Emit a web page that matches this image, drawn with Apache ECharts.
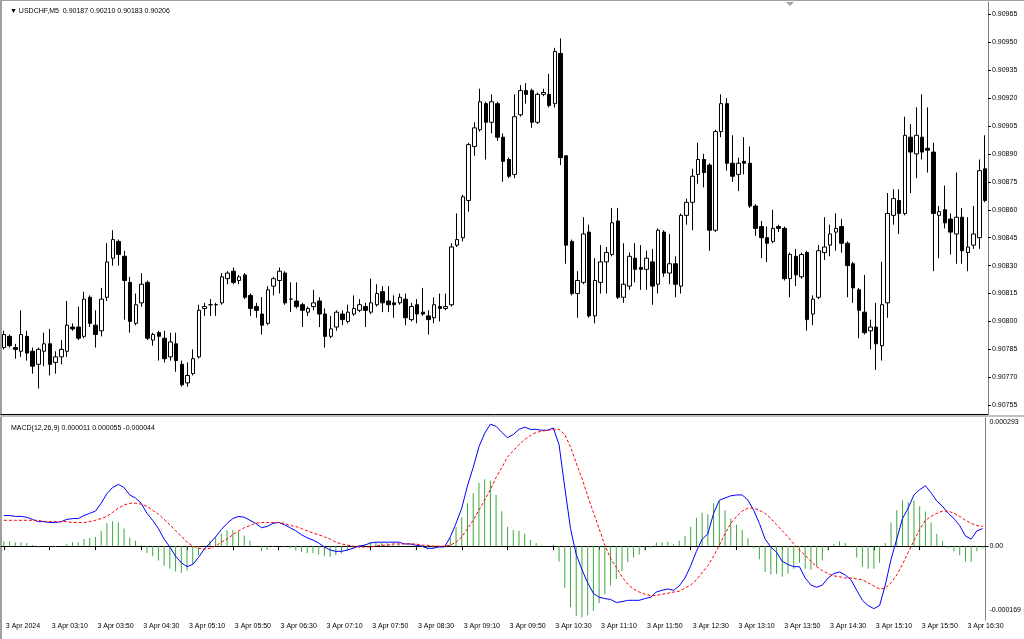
<!DOCTYPE html>
<html><head><meta charset="utf-8">
<script src="https://cdn.jsdelivr.net/npm/echarts@6/dist/echarts.min.js"></script>
<style>html,body{margin:0;padding:0;background:#fff}#c{width:1024px;height:639px}</style>
</head><body><div id="c"></div>
<script>
const opens = [0.90786,0.90792,0.90786,0.90784,0.90792,0.90784,0.90777,0.90784,0.90788,0.90778,
0.90781,0.90784,0.90797,0.90797,0.90792,0.90813,0.90798,0.90795,0.90813,0.90834,
0.90843,0.90835,0.90821,0.90799,0.90810,0.90821,0.90790,0.90794,0.90791,0.90781,
0.90788,0.90777,0.90767,0.90772,0.90781,0.90807,0.90809,0.90809,0.90810,0.90823,
0.90827,0.90822,0.90825,0.90814,0.90808,0.90804,0.90799,0.90819,0.90822,0.90826,
0.90812,0.90811,0.90809,0.90805,0.90808,0.90811,0.90804,0.90792,0.90797,0.90804,
0.90800,0.90804,0.90806,0.90808,0.90805,0.90809,0.90816,0.90811,0.90810,0.90810,
0.90812,0.90801,0.90809,0.90805,0.90803,0.90802,0.90808,0.90807,0.90809,0.90841,
0.90845,0.90865,0.90894,0.90903,0.90917,0.90907,0.90917,0.90899,0.90887,0.90879,
0.90911,0.90924,0.90924,0.90907,0.90922,0.90922,0.90917,0.90944,0.90889,0.90843,
0.90815,0.90821,0.90848,0.90803,0.90821,0.90832,0.90836,0.90854,0.90813,0.90819,
0.90834,0.90829,0.90828,0.90832,0.90820,0.90848,0.90826,0.90831,0.90819,0.90857,
0.90864,0.90879,0.90887,0.90884,0.90849,0.90902,0.90917,0.90885,0.90879,0.90886,
0.90885,0.90862,0.90851,0.90845,0.90843,0.90851,0.90850,0.90823,0.90835,0.90824,
0.90837,0.90804,0.90813,0.90837,0.90841,0.90848,0.90851,0.90842,0.90831,0.90817,
0.90805,0.90795,0.90797,0.90787,0.90810,0.90857,0.90865,0.90858,0.90899,0.90890,
0.90899,0.90893,0.90891,0.90857,0.90860,0.90855,0.90847,0.90856,0.90837,0.90841,
0.90845,0.90882];
const closes = [0.90793,0.90787,0.90785,0.90793,0.90783,0.90776,0.90785,0.90788,0.90777,0.90781,
0.90785,0.90798,0.90796,0.90791,0.90812,0.90799,0.90793,0.90812,0.90832,0.90844,
0.90836,0.90822,0.90800,0.90809,0.90820,0.90791,0.90793,0.90792,0.90780,0.90789,
0.90779,0.90766,0.90771,0.90780,0.90806,0.90808,0.90809,0.90809,0.90824,0.90826,
0.90821,0.90824,0.90813,0.90807,0.90806,0.90798,0.90817,0.90823,0.90827,0.90810,
0.90812,0.90808,0.90806,0.90807,0.90810,0.90804,0.90792,0.90796,0.90805,0.90801,
0.90805,0.90807,0.90809,0.90806,0.90810,0.90815,0.90810,0.90809,0.90809,0.90813,
0.90802,0.90808,0.90804,0.90804,0.90801,0.90809,0.90807,0.90808,0.90840,0.90844,
0.90867,0.90895,0.90904,0.90918,0.90907,0.90918,0.90899,0.90886,0.90878,0.90910,
0.90924,0.90922,0.90907,0.90922,0.90923,0.90916,0.90945,0.90888,0.90841,0.90815,
0.90822,0.90847,0.90803,0.90822,0.90832,0.90837,0.90853,0.90813,0.90820,0.90835,
0.90828,0.90828,0.90834,0.90819,0.90849,0.90826,0.90831,0.90820,0.90857,0.90864,
0.90878,0.90887,0.90880,0.90849,0.90902,0.90917,0.90885,0.90878,0.90885,0.90885,
0.90862,0.90850,0.90845,0.90842,0.90850,0.90850,0.90823,0.90836,0.90825,0.90836,
0.90801,0.90812,0.90838,0.90840,0.90847,0.90850,0.90842,0.90830,0.90818,0.90806,
0.90794,0.90797,0.90788,0.90809,0.90858,0.90866,0.90858,0.90900,0.90891,0.90900,
0.90891,0.90892,0.90858,0.90859,0.90853,0.90848,0.90856,0.90838,0.90840,0.90847,
0.90881,0.90865];
const highs = [0.90795,0.90793,0.90788,0.90806,0.90795,0.90786,0.90786,0.90794,0.90796,0.90784,
0.90790,0.90811,0.90799,0.90808,0.90816,0.90814,0.90806,0.90818,0.90842,0.90849,
0.90844,0.90838,0.90824,0.90815,0.90826,0.90822,0.90794,0.90795,0.90795,0.90794,
0.90794,0.90779,0.90778,0.90785,0.90809,0.90810,0.90812,0.90810,0.90826,0.90827,
0.90829,0.90825,0.90826,0.90815,0.90810,0.90813,0.90819,0.90824,0.90829,0.90827,
0.90821,0.90821,0.90810,0.90808,0.90817,0.90813,0.90807,0.90803,0.90806,0.90806,
0.90809,0.90814,0.90812,0.90810,0.90823,0.90820,0.90819,0.90819,0.90814,0.90815,
0.90815,0.90810,0.90812,0.90818,0.90806,0.90813,0.90815,0.90815,0.90842,0.90858,
0.90868,0.90896,0.90907,0.90925,0.90918,0.90922,0.90918,0.90901,0.90888,0.90922,
0.90927,0.90928,0.90925,0.90923,0.90925,0.90933,0.90947,0.90952,0.90889,0.90844,
0.90827,0.90856,0.90852,0.90834,0.90841,0.90840,0.90861,0.90861,0.90842,0.90837,
0.90842,0.90841,0.90838,0.90839,0.90850,0.90849,0.90847,0.90835,0.90858,0.90866,
0.90882,0.90896,0.90890,0.90885,0.90903,0.90922,0.90920,0.90900,0.90888,0.90899,
0.90894,0.90863,0.90854,0.90851,0.90860,0.90852,0.90851,0.90837,0.90839,0.90837,
0.90838,0.90814,0.90841,0.90856,0.90852,0.90858,0.90855,0.90843,0.90832,0.90818,
0.90825,0.90801,0.90810,0.90832,0.90869,0.90871,0.90871,0.90910,0.90906,0.90915,
0.90922,0.90915,0.90896,0.90862,0.90873,0.90858,0.90880,0.90861,0.90856,0.90862,
0.90887,0.90900];
const lows = [0.90785,0.90786,0.90780,0.90781,0.90779,0.90772,0.90764,0.90776,0.90771,0.90772,
0.90777,0.90781,0.90795,0.90790,0.90791,0.90797,0.90786,0.90792,0.90811,0.90830,
0.90830,0.90801,0.90794,0.90798,0.90808,0.90790,0.90787,0.90779,0.90778,0.90779,
0.90773,0.90765,0.90765,0.90771,0.90780,0.90803,0.90803,0.90803,0.90809,0.90820,
0.90820,0.90820,0.90812,0.90803,0.90802,0.90793,0.90798,0.90814,0.90815,0.90809,
0.90805,0.90807,0.90797,0.90803,0.90806,0.90797,0.90786,0.90791,0.90795,0.90798,
0.90799,0.90803,0.90805,0.90797,0.90804,0.90808,0.90805,0.90805,0.90802,0.90809,
0.90798,0.90800,0.90799,0.90803,0.90793,0.90799,0.90800,0.90806,0.90808,0.90840,
0.90843,0.90859,0.90889,0.90902,0.90887,0.90901,0.90897,0.90875,0.90877,0.90877,
0.90910,0.90917,0.90904,0.90906,0.90921,0.90915,0.90915,0.90884,0.90831,0.90814,
0.90802,0.90820,0.90802,0.90799,0.90815,0.90815,0.90835,0.90812,0.90810,0.90817,
0.90821,0.90817,0.90817,0.90809,0.90815,0.90824,0.90820,0.90813,0.90815,0.90852,
0.90849,0.90874,0.90872,0.90838,0.90848,0.90899,0.90881,0.90875,0.90870,0.90879,
0.90861,0.90846,0.90834,0.90832,0.90842,0.90848,0.90822,0.90813,0.90819,0.90823,
0.90795,0.90798,0.90812,0.90833,0.90835,0.90838,0.90837,0.90813,0.90810,0.90791,
0.90793,0.90785,0.90774,0.90779,0.90802,0.90852,0.90847,0.90857,0.90869,0.90877,
0.90887,0.90880,0.90827,0.90834,0.90850,0.90836,0.90831,0.90831,0.90827,0.90839,
0.90839,0.90864];
const macdMain = [70e-6,70e-6,68e-6,68e-6,66e-6,61e-6,56e-6,56e-6,54e-6,54e-6,
56e-6,61e-6,63e-6,63e-6,70e-6,75e-6,80e-6,98e-6,120e-6,134e-6,
141e-6,134e-6,117e-6,110e-6,98e-6,75e-6,59e-6,40e-6,16e-6,-2e-6,
-23e-6,-38e-6,-47e-6,-42e-6,-26e-6,-7e-6,7e-6,21e-6,38e-6,52e-6,
63e-6,68e-6,66e-6,59e-6,52e-6,42e-6,45e-6,52e-6,54e-6,49e-6,
42e-6,35e-6,26e-6,19e-6,14e-6,7e-6,-2e-6,-9e-6,-12e-6,-12e-6,
-9e-6,-5e-6,0,2e-6,7e-6,9e-6,9e-6,9e-6,9e-6,9e-6,
5e-6,5e-6,2e-6,0,-5e-6,-5e-6,-2e-6,-2e-6,21e-6,52e-6,
87e-6,138e-6,180e-6,227e-6,258e-6,279e-6,274e-6,260e-6,248e-6,255e-6,
267e-6,272e-6,267e-6,267e-6,265e-6,265e-6,270e-6,232e-6,134e-6,40e-6,
-19e-6,-54e-6,-84e-6,-108e-6,-117e-6,-120e-6,-122e-6,-129e-6,-127e-6,-124e-6,
-124e-6,-124e-6,-120e-6,-117e-6,-105e-6,-101e-6,-98e-6,-101e-6,-91e-6,-73e-6,
-45e-6,-12e-6,16e-6,28e-6,75e-6,105e-6,110e-6,115e-6,117e-6,117e-6,
105e-6,82e-6,52e-6,16e-6,-2e-6,-14e-6,-35e-6,-42e-6,-47e-6,-47e-6,
-73e-6,-89e-6,-94e-6,-89e-6,-73e-6,-63e-6,-59e-6,-66e-6,-77e-6,-101e-6,
-124e-6,-136e-6,-143e-6,-136e-6,-89e-6,-30e-6,16e-6,63e-6,87e-6,117e-6,
129e-6,138e-6,122e-6,103e-6,91e-6,75e-6,63e-6,47e-6,23e-6,16e-6,
35e-6,40e-6];
const macdSignal = [59e-6,59e-6,59e-6,59e-6,59e-6,59e-6,59e-6,56e-6,56e-6,56e-6,
56e-6,56e-6,54e-6,54e-6,54e-6,56e-6,59e-6,63e-6,68e-6,77e-6,
87e-6,94e-6,98e-6,98e-6,96e-6,91e-6,82e-6,73e-6,61e-6,49e-6,
35e-6,23e-6,9e-6,0,-5e-6,-7e-6,-5e-6,0,9e-6,16e-6,
26e-6,35e-6,42e-6,47e-6,52e-6,54e-6,54e-6,54e-6,54e-6,52e-6,
47e-6,45e-6,40e-6,35e-6,30e-6,26e-6,21e-6,16e-6,9e-6,5e-6,
2e-6,0,-2e-6,-2e-6,-2e-6,0,2e-6,2e-6,5e-6,5e-6,
5e-6,5e-6,5e-6,2e-6,2e-6,0,0,0,2e-6,9e-6,
21e-6,40e-6,59e-6,82e-6,105e-6,129e-6,157e-6,180e-6,204e-6,218e-6,
232e-6,244e-6,253e-6,260e-6,263e-6,265e-6,267e-6,267e-6,255e-6,227e-6,
190e-6,155e-6,115e-6,77e-6,40e-6,2e-6,-28e-6,-49e-6,-70e-6,-87e-6,
-98e-6,-105e-6,-110e-6,-113e-6,-113e-6,-110e-6,-108e-6,-105e-6,-103e-6,-96e-6,
-89e-6,-77e-6,-61e-6,-45e-6,-23e-6,2e-6,28e-6,52e-6,68e-6,80e-6,
87e-6,87e-6,82e-6,75e-6,63e-6,49e-6,35e-6,21e-6,5e-6,-9e-6,
-21e-6,-35e-6,-47e-6,-56e-6,-63e-6,-68e-6,-70e-6,-73e-6,-73e-6,-75e-6,
-77e-6,-84e-6,-91e-6,-98e-6,-96e-6,-84e-6,-66e-6,-42e-6,-14e-6,12e-6,
38e-6,59e-6,68e-6,75e-6,80e-6,80e-6,75e-6,68e-6,59e-6,52e-6,
47e-6,45e-6];
const macdHist = [11e-6,11e-6,9e-6,9e-6,7e-6,2e-6,-3e-6,0,-2e-6,-2e-6,
0,5e-6,9e-6,9e-6,16e-6,19e-6,21e-6,35e-6,52e-6,57e-6,
54e-6,40e-6,19e-6,12e-6,2e-6,-16e-6,-23e-6,-33e-6,-45e-6,-51e-6,
-58e-6,-61e-6,-56e-6,-42e-6,-21e-6,0,12e-6,21e-6,29e-6,36e-6,
37e-6,33e-6,24e-6,12e-6,0,-12e-6,-9e-6,-2e-6,0,-3e-6,
-5e-6,-10e-6,-14e-6,-16e-6,-16e-6,-19e-6,-23e-6,-25e-6,-21e-6,-17e-6,
-11e-6,-5e-6,2e-6,4e-6,9e-6,9e-6,7e-6,7e-6,4e-6,4e-6,
0,0,-3e-6,-2e-6,-7e-6,-5e-6,-2e-6,-2e-6,19e-6,43e-6,
66e-6,98e-6,121e-6,145e-6,153e-6,150e-6,117e-6,80e-6,44e-6,37e-6,
35e-6,28e-6,14e-6,7e-6,2e-6,0,3e-6,-35e-6,-95e-6,-140e-6,
-160e-6,-163e-6,-158e-6,-148e-6,-130e-6,-110e-6,-90e-6,-75e-6,-57e-6,-37e-6,
-26e-6,-19e-6,-10e-6,-4e-6,8e-6,9e-6,10e-6,4e-6,12e-6,23e-6,
44e-6,65e-6,77e-6,73e-6,98e-6,103e-6,82e-6,63e-6,49e-6,37e-6,
18e-6,-5e-6,-30e-6,-59e-6,-65e-6,-63e-6,-70e-6,-63e-6,-52e-6,-38e-6,
-52e-6,-54e-6,-47e-6,-33e-6,-10e-6,5e-6,11e-6,7e-6,-4e-6,-26e-6,
-47e-6,-52e-6,-52e-6,-38e-6,7e-6,54e-6,82e-6,105e-6,101e-6,105e-6,
91e-6,79e-6,54e-6,28e-6,11e-6,-5e-6,-12e-6,-21e-6,-36e-6,-36e-6,
-12e-6,-5e-6];
const priceTicks = [0.90755,0.90770,0.90785,0.90800,0.90815,0.90830,0.90845,0.90860,0.90875,0.90890,0.90905,0.90920,0.90935,0.90950,0.90965];
const macdTicks = [-0.000169, 0, 0.000293];
const timeTickLabels = ["3 Apr 2024","3 Apr 03:10","3 Apr 03:50","3 Apr 04:30","3 Apr 05:10","3 Apr 05:50","3 Apr 06:30","3 Apr 07:10","3 Apr 07:50","3 Apr 08:30","3 Apr 09:10","3 Apr 09:50","3 Apr 10:30","3 Apr 11:10","3 Apr 11:50","3 Apr 12:30","3 Apr 13:10","3 Apr 13:50","3 Apr 14:30","3 Apr 15:10","3 Apr 15:50","3 Apr 16:30"];
const titleMain = "\u25BC USDCHF,M5  0.90187 0.90210 0.90183 0.90206";
const titleMacd = "MACD(12,26,9) 0.000011 0.000055 -0.000044";

const categories = [];
for (let i = 0; i < opens.length; i++) {
  const m = 150 + 5 * i;
  categories.push('3 Apr ' + String(Math.floor(m / 60)).padStart(2, '0') + ':' + String(m % 60).padStart(2, '0'));
}
const candleData = opens.map((o, i) => [o, closes[i], lows[i], highs[i]]);

const FONT = 'Liberation Sans';
const chart = echarts.init(document.getElementById('c'), null, {renderer: 'canvas'});
chart.setOption({
  animation: false,
  backgroundColor: '#ffffff',
  textStyle: {fontFamily: FONT},
  title: [
    {text: titleMain, left: 5, top: 3, textStyle: {fontSize: 7, fontWeight: 'normal', color: '#000', fontFamily: FONT}},
    {text: titleMacd, left: 6, top: 420, textStyle: {fontSize: 7, fontWeight: 'normal', color: '#000', fontFamily: FONT}}
  ],
  grid: [
    {left: 1, right: 36, top: 2, height: 412},
    {left: 1, right: 36, top: 418, height: 202}
  ],
  xAxis: [
    {type: 'category', gridIndex: 0, data: categories, boundaryGap: true,
     axisLine: {show: true, lineStyle: {color: '#000', width: 1}}, axisTick: {show: false}, axisLabel: {show: false}, splitLine: {show: false}},
    {type: 'category', gridIndex: 1, data: categories, boundaryGap: true,
     axisLine: {show: true, lineStyle: {color: '#000', width: 1}},
     axisTick: {show: true, alignWithLabel: true, interval: (i) => i % 8 === 0, length: 4, lineStyle: {color: '#000'}},
     axisLabel: {show: true, interval: (i) => i % 8 === 0, align: 'left', margin: 3, padding: [0, 0, 0, 2],
       fontSize: 7, color: '#000', fontFamily: FONT,
       formatter: (v, idx) => timeTickLabels[idx / 8]},
     splitLine: {show: false}}
  ],
  yAxis: [
    {type: 'value', gridIndex: 0, position: 'right', min: 0.907503, max: 0.909716, scale: true,
     axisLine: {show: true, lineStyle: {color: '#808080', width: 1}},
     axisTick: {show: true, customValues: priceTicks, length: 3, lineStyle: {color: '#000'}},
     axisLabel: {show: true, customValues: priceTicks, formatter: (v) => v.toFixed(5), fontSize: 7, color: '#000', margin: 4, fontFamily: FONT},
     splitLine: {show: false}},
    {type: 'value', gridIndex: 1, position: 'right', min: -0.000169, max: 0.000293,
     axisLine: {show: true, lineStyle: {color: '#808080', width: 1}},
     axisTick: {show: true, customValues: [0], length: 3, lineStyle: {color: '#000'}},
     axisLabel: {show: true, customValues: macdTicks, fontSize: 7, color: '#000', margin: 4, fontFamily: FONT,
       formatter: (v) => v === 0 ? '0.00' : (v > 0 ? '{t|' + v.toFixed(6) + '}' : '{b|' + v.toFixed(6) + '}'),
       rich: {t: {fontSize: 7, padding: [8, 0, 0, 0]}, b: {fontSize: 7, padding: [0, 0, 20, 0]}}},
     splitLine: {show: false}}
  ],
  series: [
    {type: 'candlestick', xAxisIndex: 0, yAxisIndex: 0, data: candleData, barWidth: 4,
     itemStyle: {color: '#ffffff', color0: '#000000', borderColor: '#000000', borderColor0: '#000000', borderWidth: 1}},
    {type: 'bar', xAxisIndex: 1, yAxisIndex: 1, data: macdHist, barWidth: 1, itemStyle: {color: '#3da83d'}},
    {type: 'line', xAxisIndex: 1, yAxisIndex: 1, data: macdMain, symbol: 'none', lineStyle: {color: '#0000ff', width: 1}},
    {type: 'line', xAxisIndex: 1, yAxisIndex: 1, data: macdSignal, symbol: 'none', lineStyle: {color: '#ff0000', width: 1, type: [3, 2]}}
  ],
  graphic: [
    {type: 'rect', shape: {x: 0, y: 0, width: 2, height: 639}, style: {fill: '#a0a0a0'}, silent: true},
    {type: 'rect', shape: {x: 0, y: 0, width: 1024, height: 1}, style: {fill: '#a0a0a0'}, silent: true},
    {type: 'rect', shape: {x: 0, y: 415, width: 1024, height: 2}, style: {fill: '#c0c0c0'}, silent: true},
    {type: 'polygon', shape: {points: [[786, 2], [794, 2], [790, 6]]}, style: {fill: '#a0a0a0'}, silent: true}
  ]
});
</script>
</body></html>
